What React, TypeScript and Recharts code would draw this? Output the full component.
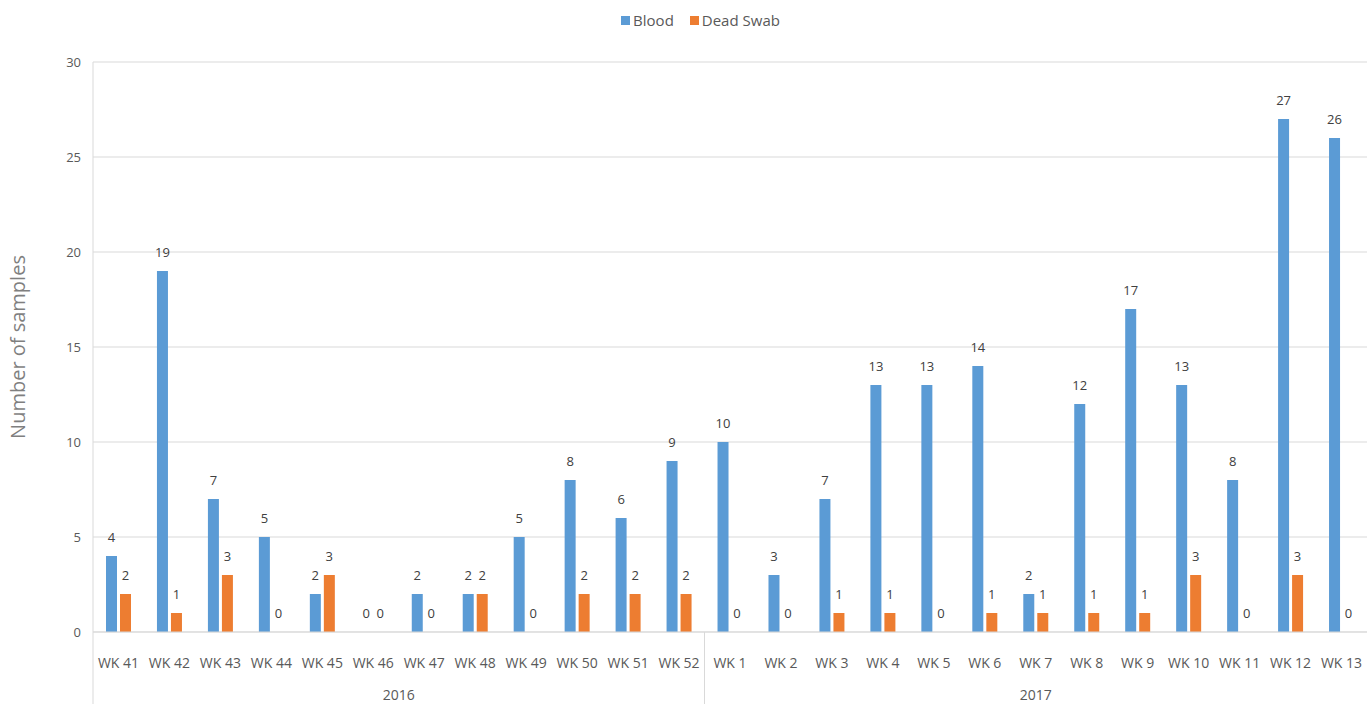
import React from "react";
import { BarChart, Bar, XAxis, YAxis, CartesianGrid, Legend, LabelList } from "recharts";

const weeks = ["WK 41","WK 42","WK 43","WK 44","WK 45","WK 46","WK 47","WK 48","WK 49","WK 50","WK 51","WK 52","WK 1","WK 2","WK 3","WK 4","WK 5","WK 6","WK 7","WK 8","WK 9","WK 10","WK 11","WK 12","WK 13"];
const yearOf = ["2016","2016","2016","2016","2016","2016","2016","2016","2016","2016","2016","2016","2017","2017","2017","2017","2017","2017","2017","2017","2017","2017","2017","2017","2017"];
const blood = [4,19,7,5,2,0,2,2,5,8,6,9,10,3,7,13,13,14,2,12,17,13,8,27,26];
const deadSwab = [2,1,3,0,3,0,0,2,0,2,2,2,0,0,1,1,0,1,1,1,1,3,0,3,0];
const yTicks = [0,5,10,15,20,25,30];

const data = weeks.map((w, i) => ({ week: w, year: yearOf[i], blood: blood[i], dead: deadSwab[i] }));

const W = 1367;
const H = 704;
const M = { top: 42, right: 0, bottom: 0, left: 0 };
const YW = 93;
const XH = 72;
const band = (W - M.left - M.right - YW) / data.length;
const TEXT = "#595959";
const FONT = "'Open Sans', sans-serif";
const BLUE = "#5B9BD5";
const ORANGE = "#ED7D31";

function WeekTick(props: any) {
  const { x, y, payload, index } = props;
  const half = payload && typeof payload.offset === "number" && payload.offset > 0 ? payload.offset : band / 2;
  const idx = typeof index === "number" ? index : payload.index;
  const axisY = y - 8;
  const els: any[] = [];
  els.push(
    <text key="t" x={x} y={axisY + 36} textAnchor="middle" fill={TEXT} fontSize={14} fontFamily={FONT}>
      {payload.value}
    </text>
  );
  const yr = yearOf[idx];
  const isStart = idx === 0 || yearOf[idx - 1] !== yr;
  if (isStart) {
    els.push(<line key="s" x1={x - half} x2={x - half} y1={axisY} y2={H} stroke="#d9d9d9" strokeWidth={1} />);
  }
  let first = idx;
  while (first > 0 && yearOf[first - 1] === yr) first--;
  let last = idx;
  while (last < yearOf.length - 1 && yearOf[last + 1] === yr) last++;
  const mid = (first + last) / 2;
  if (Math.floor(mid) === idx) {
    const cx = x + (mid - idx) * half * 2;
    els.push(
      <text key="y" x={cx} y={axisY + 68} textAnchor="middle" fill={TEXT} fontSize={14} fontFamily={FONT}>
        {yr}
      </text>
    );
  }
  return <g>{els}</g>;
}

function ValueLabel(props: any) {
  const { x, y, width, height, value } = props;
  if (value === undefined || value === null) return null;
  const top = Math.min(y, y + height);
  return (
    <text x={x + width / 2} y={top - 14} textAnchor="middle" fill="#404040" fontSize={13} fontFamily={FONT}>
      {value}
    </text>
  );
}

function LegendContent() {
  const items = [
    { name: "Blood", color: BLUE },
    { name: "Dead Swab", color: ORANGE },
  ];
  return (
    <div style={{ display: "flex", justifyContent: "center", paddingLeft: 50, fontFamily: FONT, fontSize: 15, color: TEXT, lineHeight: "20px" }}>
      {items.map((it) => (
        <div key={it.name} style={{ display: "flex", alignItems: "center", marginRight: 16 }}>
          <span style={{ display: "inline-block", width: 9, height: 9, background: it.color, marginRight: 3 }} />
          <span>{it.name}</span>
        </div>
      ))}
    </div>
  );
}

export default function App() {
  return (
    <div style={{ position: "absolute", left: 0, top: 0, width: W, height: H, background: "#fff" }}>
      <BarChart width={W} height={H} data={data} margin={M} barSize={11} barGap={3}>
        <CartesianGrid vertical={false} stroke="#d9d9d9" />
        <XAxis
          dataKey="week"
          interval={0}
          tickLine={false}
          axisLine={{ stroke: "#d9d9d9" }}
          tick={<WeekTick />}
          height={XH}
        />
        <YAxis
          width={YW}
          domain={[0, 30]}
          ticks={yTicks}
          tickLine={false}
          axisLine={{ stroke: "#d9d9d9" }}
          tickMargin={6}
          tick={{ fill: TEXT, fontSize: 13, fontFamily: FONT }}
          label={{ value: "Number of samples", angle: -90, position: "insideLeft", offset: 18, style: { fill: "#7f7f7f", fontSize: 20, fontFamily: FONT, textAnchor: "middle" } }}
        />
        <Legend
          verticalAlign="top"
          align="center"
          content={<LegendContent />}
          wrapperStyle={{ top: 10, left: 0, width: W }}
        />
        <Bar dataKey="blood" name="Blood" fill={BLUE} minPointSize={0.01} isAnimationActive={false}>
          <LabelList dataKey="blood" content={<ValueLabel />} />
        </Bar>
        <Bar dataKey="dead" name="Dead Swab" fill={ORANGE} minPointSize={0.01} isAnimationActive={false}>
          <LabelList dataKey="dead" content={<ValueLabel />} />
        </Bar>
      </BarChart>
    </div>
  );
}
